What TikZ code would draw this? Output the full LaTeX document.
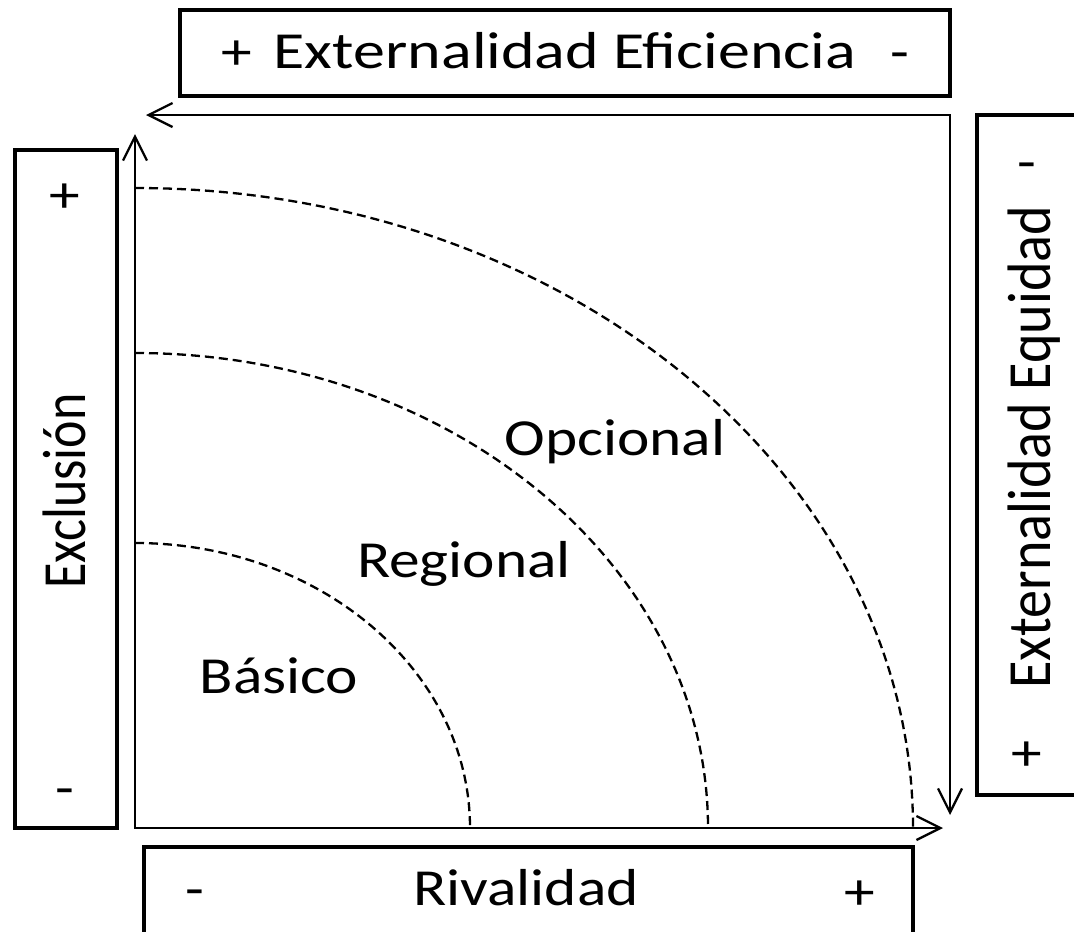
\documentclass[tikz,border=0pt]{standalone}
\usepackage{graphicx}
\usepackage{fontspec}
\setmainfont{Carlito}
\usetikzlibrary{arrows.meta}
\newcommand{\hst}[1]{\scalebox{1.18}[1]{#1}}
\newcommand{\vst}[1]{\scalebox{1}[1.18]{#1}}
\begin{document}
\begin{tikzpicture}[x=1pt,y=-1pt,
  box/.style={draw, line width=4pt, inner sep=0pt},
  lbl/.style={font=\fontsize{52}{60}\selectfont, inner sep=0pt, anchor=base},
  axis/.style={line width=2.3pt, {Straight Barb[length=24pt,width=24pt]}-{Straight Barb[length=24pt,width=24pt]}},
  arcline/.style={line width=2.3pt, dash pattern=on 9pt off 5pt}]
\useasboundingbox (0,0) rectangle (1074,932);
\clip (0,0) rectangle (1074,932);
% boxes
\node[box, minimum width=770pt, minimum height=86pt] (tbox) at (565,53) {};
\node[box, minimum width=102pt, minimum height=678pt] (lbox) at (66,489) {};
\node[box, minimum width=102pt, minimum height=680pt] (rbox) at (1028,455) {};
\node[box, minimum width=769pt, minimum height=88pt] (bbox) at (528.5,891) {};
% box texts
\node[lbl] (tplus) at (237,69) {\hst{+}};
\node[lbl] (ttext) at (565,68) {\scalebox{1.23}[1]{Externalidad Eficiencia}};
\node[lbl] (tminus) at (900,69) {\hst{-}};
\node[lbl] (lplus) at (65,212) {\hst{+}};
\node[lbl, rotate=90] (ltext) at (85,491) {\vst{Exclusión}};
\node[lbl] (lminus) at (65,805) {\hst{-}};
\node[lbl] (rminus) at (1027,179) {\hst{-}};
\node[lbl, rotate=90] (rtext) at (1050,447) {\scalebox{1.08}[1.18]{Externalidad Equidad}};
\node[lbl] (rplus) at (1027,770) {\hst{+}};
\node[lbl] (bminus) at (195,906) {\hst{-}};
\node[lbl] (btext) at (526,905) {\hst{Rivalidad}};
\node[lbl] (bplus) at (860,909) {\hst{+}};
% axes
\coordinate (O) at (135,828);
\coordinate (ytip) at (135,134);
\coordinate (xtip) at (943,828);
\coordinate (C) at (950,115);
\coordinate (ltip) at (146,115);
\coordinate (dtip) at (950,815);
\draw[axis] (ytip) -- (O) -- (xtip);
\draw[axis] (ltip) -- (C) -- (dtip);
% dashed arcs
\coordinate (a1) at (135,543);
\coordinate (a2) at (135,353);
\coordinate (a3) at (135,188);
\draw[arcline] (a1) arc[start angle=90, end angle=0, x radius=335pt, y radius=285pt];
\draw[arcline] (a2) arc[start angle=90, end angle=0, x radius=573pt, y radius=475pt];
\draw[arcline] (a3) arc[start angle=90, end angle=0, x radius=778pt, y radius=640pt];
% region labels
\node[lbl] (opc) at (615,455) {\hst{Opcional}};
\node[lbl] (reg) at (464,577) {\hst{Regional}};
\node[lbl] (bas) at (279,693) {\hst{Básico}};
\end{tikzpicture}
\end{document}
